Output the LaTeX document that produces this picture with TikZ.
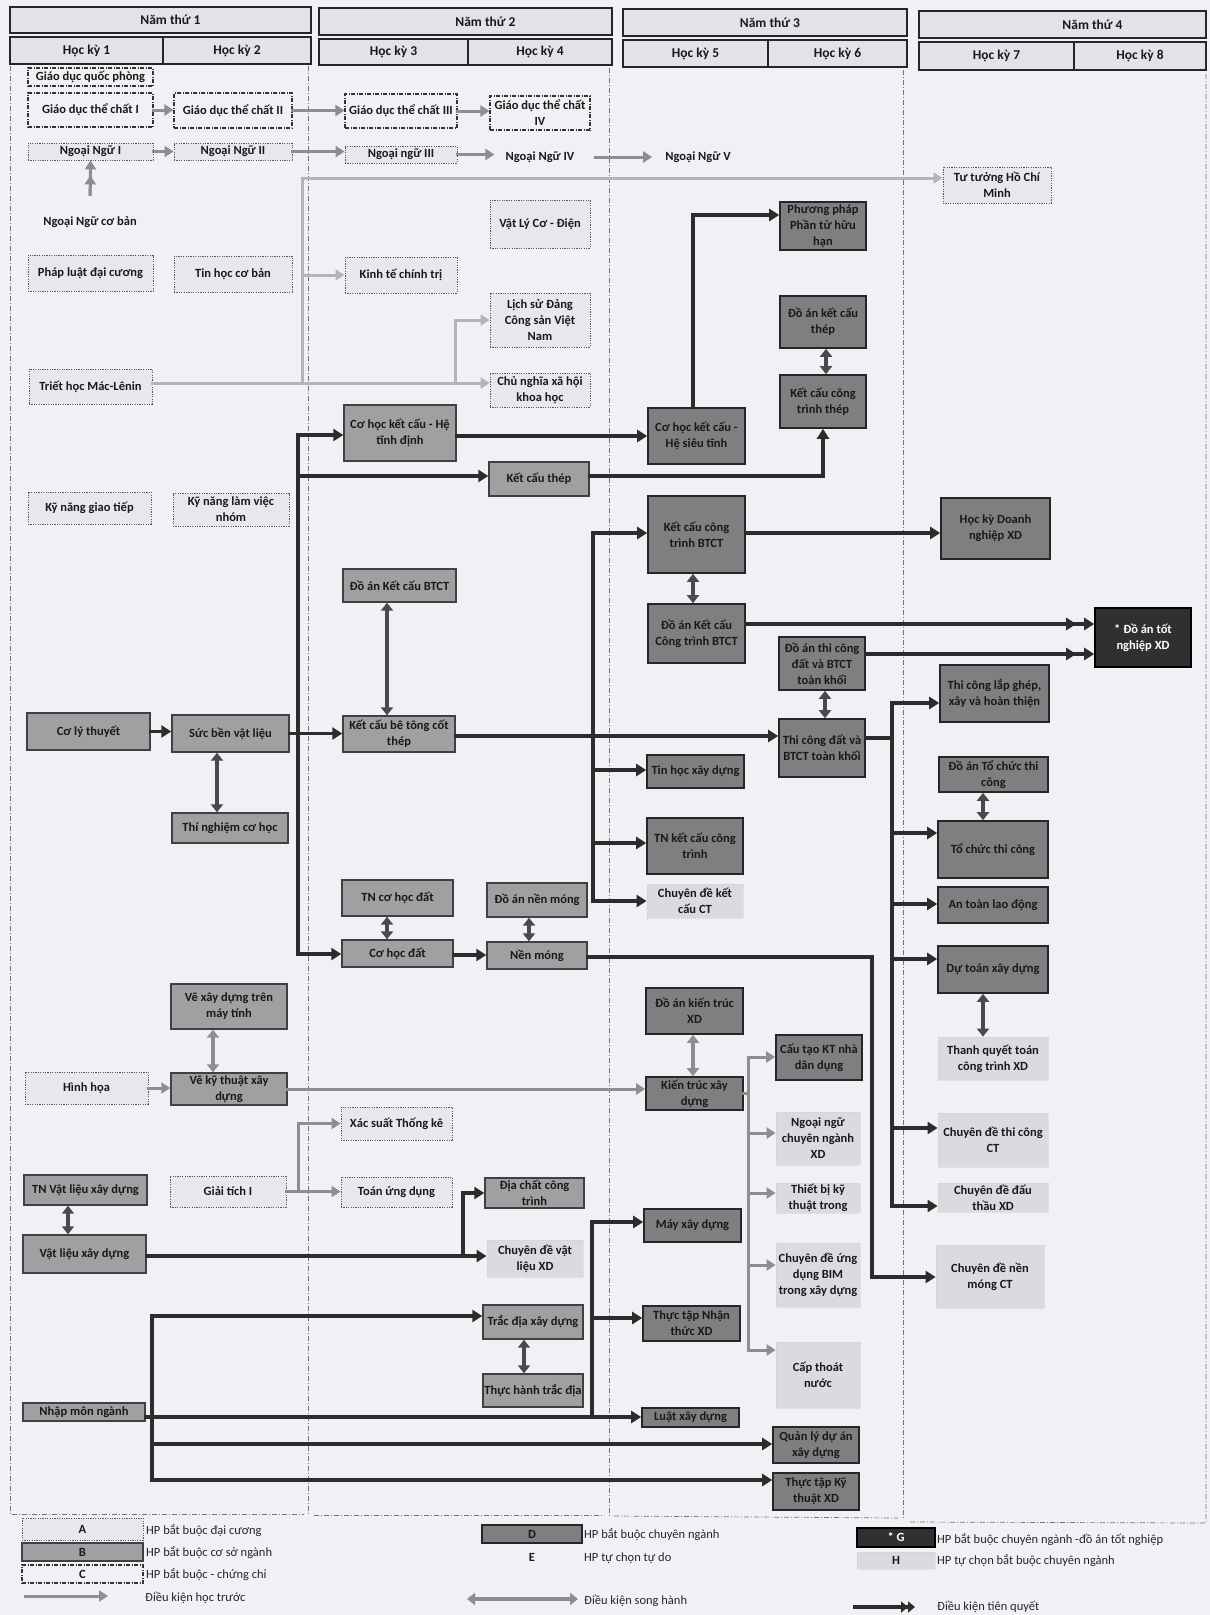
\documentclass[tikz,border=0pt]{standalone}
\usepackage{fontspec}
\setmainfont{Carlito}
\usetikzlibrary{arrows.meta}
\definecolor{bgc}{HTML}{F0F1F4}
\definecolor{cA}{HTML}{E6E8EE}
\definecolor{cHd}{HTML}{E2E3E8}
\definecolor{cB}{HTML}{9FA0A2}
\definecolor{cD}{HTML}{7E7F81}
\definecolor{cG}{HTML}{303030}
\definecolor{cH}{HTML}{DADBDF}
\definecolor{cGr}{HTML}{8E8E90}
\definecolor{cGrL}{HTML}{B4B5B8}
\definecolor{cBk}{HTML}{2C2C2C}
\definecolor{cDb}{HTML}{4A4A4C}
\newcommand\mybox[7]{%
  \pgfmathsetmacro\bxcx{(#3+#5)/2}%
  \pgfmathsetmacro\bxcy{(#4+#6)/2}%
  \pgfmathsetmacro\bxw{#5-#3}%
  \pgfmathsetmacro\bxh{#6-#4}%
  \node[#2,minimum width=\bxw pt,minimum height=\bxh pt] (#1) at (\bxcx,\bxcy) {#7};}
\tikzset{
 base/.style={align=center, inner sep=1pt, font=\bfseries\fontsize{12.5}{16}\selectfont, text=black!90},
 tA/.style={base, draw=black!65, line width=0.9pt, dash pattern=on 1.2pt off 1.2pt, fill=cA},
 tB/.style={base, draw=black!75, line width=1.4pt, fill=cB},
 tC/.style={base, draw=black!80, line width=1.1pt, dash pattern=on 4pt off 1.5pt on 1pt off 1.5pt, fill=bgc},
 tD/.style={base, draw=black!85, line width=1.6pt, fill=cD},
 tE/.style={base},
 tG/.style={base, draw=black, line width=1.6pt, fill=cG, text=white},
 tH/.style={base, draw=black!18, line width=0.8pt, dash pattern=on 1pt off 1pt, fill=cH},
 hdr/.style={base, draw=black!85, line width=1.5pt, fill=cHd, font=\bfseries\fontsize{13.5}{16}\selectfont},
 lab/.style={anchor=west, inner sep=0pt, font=\fontsize{12.5}{15}\selectfont, text=black!85},
 colline/.style={draw=black!55, line width=0.7pt, dash pattern=on 5pt off 2pt on 1pt off 2pt},
 ht/.style={draw=cGr, line width=3pt, line cap=rect, -{Triangle[length=9pt,width=11pt]}},
 htn/.style={draw=cGr, line width=3pt, line cap=rect},
 htl/.style={draw=cGrL, line width=3pt, line cap=rect, -{Triangle[length=9pt,width=11pt]}},
 htln/.style={draw=cGrL, line width=3pt, line cap=rect},
 tq/.style={draw=cBk, line width=3.6pt, line cap=rect, -{Triangle[length=10pt,width=12pt]}},
 tqn/.style={draw=cBk, line width=3.6pt, line cap=rect},
 sh/.style={draw=cDb, line width=4pt, {Triangle[length=8pt,width=12pt]}-{Triangle[length=8pt,width=12pt]}},
 shl/.style={draw=cGr, line width=4pt, {Triangle[length=8pt,width=12pt]}-{Triangle[length=8pt,width=12pt]}},
}
\begin{document}
\begin{tikzpicture}[x=1pt,y=-1pt]
\useasboundingbox (0,0) rectangle (1210,1615);
\fill[bgc] (0,0) rectangle (1210,1615);
% column frames
\draw[colline] (10,66) -- (10,1514) -- (304,1514);
\draw[colline] (308,66) -- (308,1515);
\draw[colline] (314,1515) -- (604,1515);
\draw[colline] (609,68) -- (609,1516);
\draw[colline] (614,1516) -- (898,1518);
\draw[colline] (903,70) -- (903,1520);
\draw[colline] (910,1522) -- (1206,1523) -- (1206,72);
% header
\mybox{y1}{hdr}{10}{7}{311}{33}{\hspace*{20pt}Năm thứ 1}
\mybox{s1}{hdr}{10}{37}{163}{64}{Học kỳ 1}
\mybox{s2}{hdr}{163}{37}{311}{64}{Học kỳ 2}
\mybox{y2}{hdr}{319}{8}{612}{35}{\hspace*{40pt}Năm thứ 2}
\mybox{s3}{hdr}{319}{39}{468}{65}{Học kỳ 3}
\mybox{s4}{hdr}{468}{39}{612}{65}{Học kỳ 4}
\mybox{y3}{hdr}{623}{9}{907}{36}{\hspace*{10pt}Năm thứ 3}
\mybox{s5}{hdr}{623}{40}{768}{67}{Học kỳ 5}
\mybox{s6}{hdr}{768}{40}{907}{67}{Học kỳ 6}
\mybox{y4}{hdr}{919}{11}{1206}{38}{\hspace*{60pt}Năm thứ 4}
\mybox{s7}{hdr}{919}{42}{1074}{70}{Học kỳ 7}
\mybox{s8}{hdr}{1074}{42}{1206}{70}{Học kỳ 8}
% year 1
\mybox{gdqp}{tC}{28}{68}{153}{86}{Giáo dục quốc phòng}
\mybox{gdtc1}{tC}{28}{93}{153}{127}{Giáo dục thể chất I}
\mybox{gdtc2}{tC}{174}{93}{292}{128}{Giáo dục thể chất II}
\mybox{nn1}{tA}{28}{143}{153}{160}{Ngoại Ngữ I}
\mybox{nn2}{tA}{174}{143}{292}{160}{Ngoại Ngữ II}
\node[tE] (nncb) at (90,222) {Ngoại Ngữ cơ bản};
\mybox{pldc}{tA}{28}{255}{153}{291}{Pháp luật đại cương}
\mybox{thcb}{tA}{174}{256}{292}{292}{Tin học cơ bản}
\mybox{triet}{tA}{29}{369}{152}{404}{Triết học Mác-Lênin}
\mybox{kngt}{tA}{28}{492}{151}{524}{Kỹ năng giao tiếp}
\mybox{knlv}{tA}{173}{493}{289}{526}{Kỹ năng làm việc\\nhóm}
\mybox{clt}{tB}{27}{713}{150}{750}{Cơ lý thuyết}
\mybox{sbvl}{tB}{172}{715}{289}{752}{Sức bền vật liệu}
\mybox{tnch}{tB}{172}{813}{288}{843}{Thí nghiệm cơ học}
\mybox{vxdmt}{tB}{171}{984}{287}{1029}{Vẽ xây dựng trên\\máy tính}
\mybox{vkt}{tB}{171}{1073}{287}{1105}{Vẽ kỹ thuật xây\\dựng}
\mybox{hh}{tA}{25}{1072}{148}{1104}{Hình họa}
\mybox{gt}{tA}{170}{1176}{286}{1207}{Giải tích I}
\mybox{tnvl}{tB}{24}{1175}{147}{1205}{TN Vật liệu xây dựng}
\mybox{vlxd}{tB}{23}{1235}{146}{1273}{Vật liệu xây dựng}
\mybox{nmn}{tB}{23}{1403}{145}{1421}{Nhập môn ngành}
% year 2
\mybox{gdtc3}{tC}{345}{94}{457}{128}{Giáo dục thể chất III}
\mybox{gdtc4}{tC}{490}{96}{590}{130}{Giáo dục thể chất\\IV}
\mybox{nn3}{tA}{345}{146}{457}{163}{Ngoại ngữ III}
\node[tE] (nn4) at (540,157) {Ngoại Ngữ IV};
\node[tE] (nn5) at (698,157) {Ngoại Ngữ V};
\mybox{vlcd}{tA}{490}{200}{590}{248}{Vật Lý Cơ - Điện}
\mybox{ktct}{tA}{345}{257}{457}{293}{Kinh tế chính trị}
\mybox{lsd}{tA}{490}{293}{590}{347}{Lịch sử Đảng\\Công sản Việt\\Nam}
\mybox{cnxh}{tA}{490}{373}{590}{407}{Chủ nghĩa xã hội\\khoa học}
\mybox{chkt1}{tB}{344}{405}{456}{461}{Cơ học kết cấu - Hệ\\tĩnh định}
\mybox{kct}{tB}{489}{462}{589}{496}{Kết cấu thép}
\mybox{dakcbt}{tB}{343}{569}{456}{602}{Đồ án Kết cấu BTCT}
\mybox{kcbt}{tB}{343}{716}{455}{752}{Kết cấu bê tông cốt\\thép}
\mybox{tnchd}{tB}{342}{880}{453}{916}{TN cơ học đất}
\mybox{chd}{tB}{342}{940}{453}{967}{Cơ học đất}
\mybox{danm}{tB}{487}{883}{587}{917}{Đồ án nền móng}
\mybox{nm}{tB}{487}{942}{587}{969}{Nền móng}
\mybox{xstk}{tA}{341}{1107}{452}{1140}{Xác suất Thống kê}
\mybox{tuud}{tA}{341}{1177}{452}{1207}{Toán ứng dụng}
\mybox{dcct}{tB}{485}{1178}{584}{1208}{Địa chất công\\trình}
\mybox{cdvl}{tH}{487}{1240}{583}{1277}{Chuyên đề vật\\liệu XD}
\mybox{tdxd}{tB}{483}{1305}{583}{1339}{Trắc địa xây dựng}
\mybox{thtd}{tB}{483}{1374}{583}{1407}{Thực hành trắc địa}
% year 3
\mybox{chkt2}{tD}{648}{408}{745}{464}{Cơ học kết cấu -\\Hệ siêu tĩnh}
\mybox{pp}{tD}{780}{202}{866}{250}{Phương pháp\\Phần tử hữu\\hạn}
\mybox{dakct}{tD}{780}{296}{866}{348}{Đồ án kết cấu\\thép}
\mybox{kcct}{tD}{780}{375}{866}{428}{Kết cấu công\\trình thép}
\mybox{kcbtct}{tD}{648}{496}{745}{573}{Kết cấu công\\trình BTCT}
\mybox{dabtct}{tD}{648}{604}{745}{663}{Đồ án Kết cấu\\Công trình BTCT}
\mybox{daktcd}{tD}{779}{637}{865}{690}{Đồ án thi công\\đất và BTCT\\toàn khối}
\mybox{tcd}{tD}{779}{719}{865}{777}{Thi công đất và\\BTCT toàn khối}
\mybox{thxd}{tD}{647}{755}{744}{788}{Tin học xây dựng}
\mybox{tnkc}{tD}{647}{818}{743}{874}{TN kết cấu công\\trình}
\mybox{cdkc}{tH}{647}{884}{743}{918}{Chuyên đề kết\\cấu CT}
\mybox{dakt}{tD}{646}{988}{743}{1034}{Đồ án kiến trúc\\XD}
\mybox{ktxd}{tD}{646}{1077}{743}{1110}{Kiến trúc xây\\dựng}
\mybox{ctkt}{tD}{776}{1035}{862}{1080}{Cấu tạo KT nhà\\dân dụng}
\mybox{nncn}{tH}{776}{1112}{860}{1165}{Ngoại ngữ\\chuyên ngành\\XD}
\mybox{tbkt}{tH}{776}{1183}{860}{1213}{Thiết bị kỹ\\thuật trong}
\mybox{bim}{tH}{776}{1243}{860}{1307}{Chuyên đề ứng\\dụng BIM\\trong xây dựng}
\mybox{ctn}{tH}{776}{1342}{860}{1408}{Cấp thoát\\nước}
\mybox{mxd}{tD}{644}{1209}{741}{1242}{Máy xây dựng}
\mybox{ttnt}{tD}{643}{1306}{740}{1341}{Thực tập Nhận\\thức XD}
\mybox{lxd}{tD}{642}{1408}{739}{1427}{Luật xây dựng}
\mybox{qlda}{tD}{773}{1427}{859}{1463}{Quản lý dự án\\xây dựng}
\mybox{ttkt}{tD}{773}{1473}{859}{1510}{Thực tập Kỹ\\thuật XD}
% year 4
\mybox{tthcm}{tA}{943}{167}{1051}{203}{Tư tưởng Hồ Chí\\Minh}
\mybox{hkdn}{tD}{941}{498}{1050}{559}{Học kỳ Doanh\\nghiệp XD}
\mybox{datn}{tG}{1095}{608}{1191}{667}{* Đồ án tốt\\nghiệp XD}
\mybox{tclg}{tD}{940}{665}{1049}{722}{Thi công lắp ghép,\\xây và hoàn thiện}
\mybox{datc}{tD}{939}{757}{1048}{792}{Đồ án Tổ chức thi\\công}
\mybox{tctc}{tD}{938}{821}{1048}{878}{Tổ chức thi công}
\mybox{atld}{tD}{938}{887}{1048}{923}{An toàn lao động}
\mybox{dtxd}{tD}{938}{946}{1048}{993}{Dự toán xây dựng}
\mybox{tqt}{tH}{938}{1037}{1048}{1080}{Thanh quyết toán\\công trình XD}
\mybox{cdtc}{tH}{938}{1113}{1048}{1167}{Chuyên đề thi công\\CT}
\mybox{cddt}{tH}{938}{1183}{1048}{1212}{Chuyên đề đấu\\thầu XD}
\mybox{cdnm}{tH}{936}{1245}{1044}{1308}{Chuyên đề nền\\móng CT}
% ---------- gray connectors (hoc truoc)
\draw[ht] (gdtc1.east) -- (gdtc1.east -| gdtc2.west);
\draw[ht] (gdtc2.east) -- (gdtc2.east -| gdtc3.west);
\draw[ht] (gdtc3.east) -- (gdtc3.east -| gdtc4.west);
\draw[ht] (nn1.east) -- (nn1.east -| nn2.west);
\draw[ht] (nn2.east) -- (nn2.east -| nn3.west);
\draw[ht, shorten >=10pt] (nn3.east) -- (nn3.east -| nn4.west);
\draw[ht, shorten <=20pt, shorten >=12pt] (nn4.east) -- (nn5.west);
\draw[ht, shorten <=21pt] (nncb.north) -- (nn1.south);
\draw[ht, shorten <=21pt, shorten >=15pt] (nncb.north) -- (nn1.south);
% Triet hoc
\coordinate (tr1) at (302,383);
\coordinate (tr2) at (302,178);
\coordinate (tr3) at (302,275);
\coordinate (tr4) at (455,383);
\draw[htl] (triet.east |- tr1) -- (tr1) -- (tr2) -- (tthcm.west |- tr2);
\draw[htl] (tr3) -- (ktct.west |- tr3);
\draw[htl] (tr1) -- (cnxh.west |- tr1);
\draw[htl] (tr4) -- (tr4 |- lsd.west) -- (lsd.west);
% drawing
\draw[ht] (hh.east) -- (hh.east -| vkt.west);
\draw[ht] (vkt.east) -- (vkt.east -| ktxd.west);
\coordinate (g1) at (298,1191);
\draw[ht] (gt.east) -- (gt.east -| tuud.west);
\draw[ht] (g1) -- (g1 |- xstk.west) -- (xstk.west);
% kien truc trunk
\coordinate (k0) at (748,1057);
\coordinate (k1) at (748,1350);
\draw[htn] (ktxd.east) -- (ktxd.east -| k0);
\draw[htn] (k0) -- (k1);
\foreach \n/\y in {ctkt/1057,nncn/1133,tbkt/1193,bim/1265,ctn/1350}
  \draw[ht] (748,\y) -- (\n.west |- 0,\y);
% ---------- black connectors (tien quyet)
\draw[tq] (clt.east) -- (clt.east -| sbvl.west);
\draw[tq] (sbvl.east) -- (sbvl.east -| kcbt.west);
\coordinate (s0) at (298,435);
\coordinate (s1) at (298,954);
\draw[tqn] (s0) -- (s1);
\draw[tq] (s0) -- (chkt1.west |- s0);
\draw[tq] (298,476) -- (kct.west |- 0,476);
\draw[tq] (s1) -- (chd.west |- s1);
\draw[tq] (chkt1.east |- 0,436) -- (chkt2.west |- 0,436);
\draw[tq] (chkt2.north -| 693,0) -- (693,215) -- (pp.west |- 0,215);
\draw[tq] (kct.east |- 0,476) -- (kcct.south |- 0,476) -- (kcct.south);
% KC BTCT trunk
\coordinate (b0) at (593,533);
\coordinate (b1) at (593,901);
\draw[tq] (kcbt.east |- 0,736) -- (tcd.west |- 0,736);
\draw[tqn] (b0) -- (b1);
\draw[tq] (b0) -- (kcbtct.west |- b0);
\draw[tq] (593,770) -- (thxd.west |- 0,770);
\draw[tq] (593,843) -- (tnkc.west |- 0,843);
\draw[tq] (b1) -- (cdkc.west |- b1);
\draw[tq] (kcbtct.east |- 0,533) -- (hkdn.west |- 0,533);
\draw[tq] (dabtct.east |- 0,624) -- (datn.west |- 0,624);
\draw[tq, shorten >=18pt] (dabtct.east |- 0,624) -- (datn.west |- 0,624);
\draw[tq] (daktcd.east |- 0,654) -- (datn.west |- 0,654);
\draw[tq, shorten >=18pt] (daktcd.east |- 0,654) -- (datn.west |- 0,654);
% thi cong trunk
\coordinate (c0) at (892,703);
\coordinate (c1) at (892,1206);
\draw[tqn] (tcd.east |- 0,738) -- (892,738);
\draw[tqn] (c0) -- (c1);
\foreach \n/\y in {tclg/703,tctc/833,atld/904,dtxd/959,cdtc/1128,cddt/1206}
  \draw[tq] (892,\y) -- (\n.west |- 0,\y);
% nen mong
\draw[tq] (chd.east |- 0,955) -- (nm.west |- 0,955);
\draw[tq] (nm.east |- 0,957) -- (872,957) -- (872,1277) -- (cdnm.west |- 0,1277);
% vat lieu
\coordinate (v0) at (463,1256);
\draw[tq] (vlxd.east |- v0) -- (cdvl.west |- v0);
\draw[tq] (v0) -- (463,1193) -- (dcct.west |- 0,1193);
% nhap mon nganh
\coordinate (m0) at (152,1316);
\coordinate (m1) at (152,1480);
\draw[tqn] (nmn.east |- 0,1417) -- (152,1417);
\draw[tqn] (m0) -- (m1);
\draw[tq] (m0) -- (tdxd.west |- m0);
\draw[tq] (152,1417) -- (lxd.west |- 0,1417);
\draw[tq] (152,1444) -- (qlda.west |- 0,1444);
\draw[tq] (m1) -- (ttkt.west |- m1);
\coordinate (d0) at (592,1222);
\draw[tqn] (d0) -- (592,1417);
\draw[tq] (d0) -- (mxd.west |- d0);
\draw[tq] (592,1318) -- (ttnt.west |- 0,1318);
% ---------- double arrows (song hanh)
\draw[sh] (sbvl.south -| 217,0) -- (tnch.north -| 217,0);
\draw[sh] (dakcbt.south -| 387,0) -- (kcbt.north -| 387,0);
\draw[sh] (dakct.south -| 826,0) -- (kcct.north -| 826,0);
\draw[sh] (kcbtct.south -| 693,0) -- (dabtct.north -| 693,0);
\draw[sh] (daktcd.south -| 825,0) -- (tcd.north -| 825,0);
\draw[sh] (datc.south -| 983,0) -- (tctc.north -| 983,0);
\draw[sh] (dtxd.south -| 983,0) -- (tqt.north -| 983,0);
\draw[sh] (tnchd.south -| 387,0) -- (chd.north -| 387,0);
\draw[sh] (danm.south -| 529,0) -- (nm.north -| 529,0);
\draw[shl] (vxdmt.south -| 213,0) -- (vkt.north -| 213,0);
\draw[shl] (dakt.south -| 693,0) -- (ktxd.north -| 693,0);
\draw[sh] (tnvl.south -| 68,0) -- (vlxd.north -| 68,0);
\draw[sh] (tdxd.south -| 524,0) -- (thtd.north -| 524,0);
% ---------- legend
\mybox{lA}{tA}{22}{1518}{143}{1540}{A}
\mybox{lB}{tB}{22}{1543}{143}{1561}{B}
\mybox{lC}{tC}{22}{1565}{143}{1583}{C}
\node[lab] (lAt) at (146,1531) {HP bắt buộc đại cương};
\node[lab] (lBt) at (146,1553) {HP bắt buộc cơ sở ngành};
\node[lab] (lCt) at (146,1575) {HP bắt buộc - chứng chỉ};
\coordinate (la1) at (25,1596);
\coordinate (la2) at (108,1596);
\draw[ht] (la1) -- (la2);
\node[lab] (lat) at (145,1598) {Điều kiện học trước};
\mybox{lD}{tD}{482}{1525}{582}{1543}{D}
\node[lab] (lDt) at (584,1535) {HP bắt buộc chuyên ngành};
\node[tE] (lE) at (532,1557) {E};
\node[lab] (lEt) at (584,1558) {HP tự chọn tự do};
\coordinate (ls1) at (467,1599);
\coordinate (ls2) at (578,1599);
\draw[shl] (ls1) -- (ls2);
\node[lab] (lst) at (584,1601) {Điều kiện song hành};
\mybox{lG}{tG}{857}{1528}{935}{1547}{* G}
\node[lab] (lGt) at (937,1540) {HP bắt buộc chuyên ngành -đồ án tốt nghiệp};
\mybox{lH}{tH}{857}{1552}{935}{1569}{H}
\node[lab] (lHt) at (937,1561) {HP tự chọn bắt buộc chuyên ngành};
\coordinate (lq1) at (853,1607);
\coordinate (lq2) at (915,1607);
\draw[draw=cBk, line width=3.6pt, -{Triangle[length=7pt,width=11pt]Triangle[length=7pt,width=11pt]}] (lq1) -- (lq2);
\node[lab] (lqt) at (937,1607) {Điều kiện tiên quyết};
\end{tikzpicture}
\end{document}
